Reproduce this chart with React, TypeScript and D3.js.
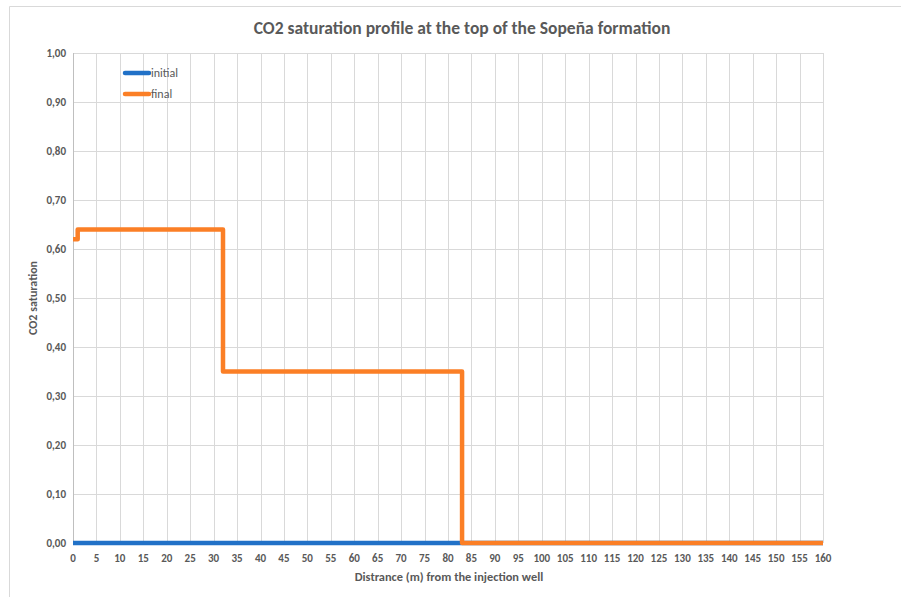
import React, { useEffect, useRef } from "react";
import * as d3 from "d3";

// distance (m) and CO2 saturation
const initialX = [0, 160];
const initialY = [0, 0];
const finalX = [0, 1, 1, 32, 32, 83, 83, 160];
const finalY = [0.62, 0.62, 0.64, 0.64, 0.35, 0.35, 0, 0];
const xTicks = d3.range(0, 161, 5);
const yTicks = d3.range(0, 1.001, 0.1);
const seriesNames = ["initial", "final"];
const seriesColors = ["#2171c7", "#fb7f26"];

const W = 901, H = 597;
const font = "Carlito, 'Open Sans', sans-serif";

export default function App() {
  const ref = useRef<SVGSVGElement | null>(null);

  useEffect(() => {
    if (!ref.current) return;
    const svg = d3.select(ref.current);
    svg.selectAll("*").remove();

    const left = 73, right = 823, top = 53, bottom = 543;
    const x = d3.scaleLinear().domain([0, 160]).range([left, right]);
    const y = d3.scaleLinear().domain([0, 1]).range([bottom, top]);

    // chart frame (cut by the picture edges)
    svg.append("path")
      .attr("d", `M9.5,${H} V6.5 H${W}`)
      .attr("fill", "none")
      .attr("stroke", "#d9d9d9");

    // grid
    const g = svg.append("g");
    g.selectAll(".vx").data(xTicks.slice(1)).enter().append("line")
      .attr("x1", d => Math.round(x(d)) + 0.5).attr("x2", d => Math.round(x(d)) + 0.5)
      .attr("y1", top).attr("y2", bottom)
      .attr("stroke", "#d9d9d9");
    g.selectAll(".hy").data(yTicks.slice(1)).enter().append("line")
      .attr("x1", left).attr("x2", right)
      .attr("y1", d => Math.round(y(d)) + 0.5).attr("y2", d => Math.round(y(d)) + 0.5)
      .attr("stroke", "#d9d9d9");
    g.append("line")
      .attr("x1", left + 0.5).attr("x2", left + 0.5)
      .attr("y1", top).attr("y2", bottom)
      .attr("stroke", "#bfbfbf");

    // tick labels
    svg.selectAll(".yl").data(yTicks).enter().append("text")
      .attr("x", left - 7).attr("y", d => y(d) + 4)
      .attr("text-anchor", "end")
      .attr("font-family", font).attr("font-size", 11).attr("font-weight", "bold")
      .attr("fill", "#595959")
      .text(d => d3.format(".2f")(d).replace(".", ","));
    svg.selectAll(".xl").data(xTicks).enter().append("text")
      .attr("x", d => x(d)).attr("y", bottom + 19)
      .attr("text-anchor", "middle")
      .attr("font-family", font).attr("font-size", 11).attr("font-weight", "bold")
      .attr("fill", "#595959")
      .text(d => String(d));

    // series
    const draw = (xs: number[], ys: number[], color: string) => {
      const l = d3.line<number>()
        .x(d => x(xs[d]))
        .y(d => y(ys[d]));
      svg.append("path")
        .attr("d", l(d3.range(xs.length)))
        .attr("fill", "none")
        .attr("stroke", color)
        .attr("stroke-width", 4.5)
        .attr("stroke-linejoin", "round");
    };
    draw(initialX, initialY, seriesColors[0]);
    draw(finalX, finalY, seriesColors[1]);

    // legend
    seriesNames.forEach((name, i) => {
      const ly = 73 + i * 21;
      svg.append("line")
        .attr("x1", 125).attr("x2", 149).attr("y1", ly).attr("y2", ly)
        .attr("stroke", seriesColors[i]).attr("stroke-width", 4.5)
        .attr("stroke-linecap", "round");
      svg.append("text")
        .attr("x", 151).attr("y", ly + 4)
        .attr("font-family", font).attr("font-size", 12)
        .attr("fill", "#595959")
        .text(name);
    });

    // titles
    svg.append("text")
      .attr("x", 462).attr("y", 34)
      .attr("text-anchor", "middle")
      .attr("font-family", font).attr("font-size", 17.5).attr("font-weight", "bold")
      .attr("fill", "#595959")
      .text("CO2 saturation profile at the top of the Sopeña formation");
    svg.append("text")
      .attr("x", 449).attr("y", 581)
      .attr("text-anchor", "middle")
      .attr("font-family", font).attr("font-size", 12.4).attr("font-weight", "bold")
      .attr("fill", "#595959")
      .text("Distrance (m) from the injection well");
    svg.append("text")
      .attr("transform", `translate(37,${(top + bottom) / 2}) rotate(-90)`)
      .attr("text-anchor", "middle")
      .attr("font-family", font).attr("font-size", 12).attr("font-weight", "bold")
      .attr("fill", "#595959")
      .text("CO2 saturation");
  }, []);

  return (
    <div style={{ position: "absolute", left: 0, top: 0, width: W, height: H, background: "#fff" }}>
      <svg ref={ref} width={W} height={H}></svg>
    </div>
  );
}
